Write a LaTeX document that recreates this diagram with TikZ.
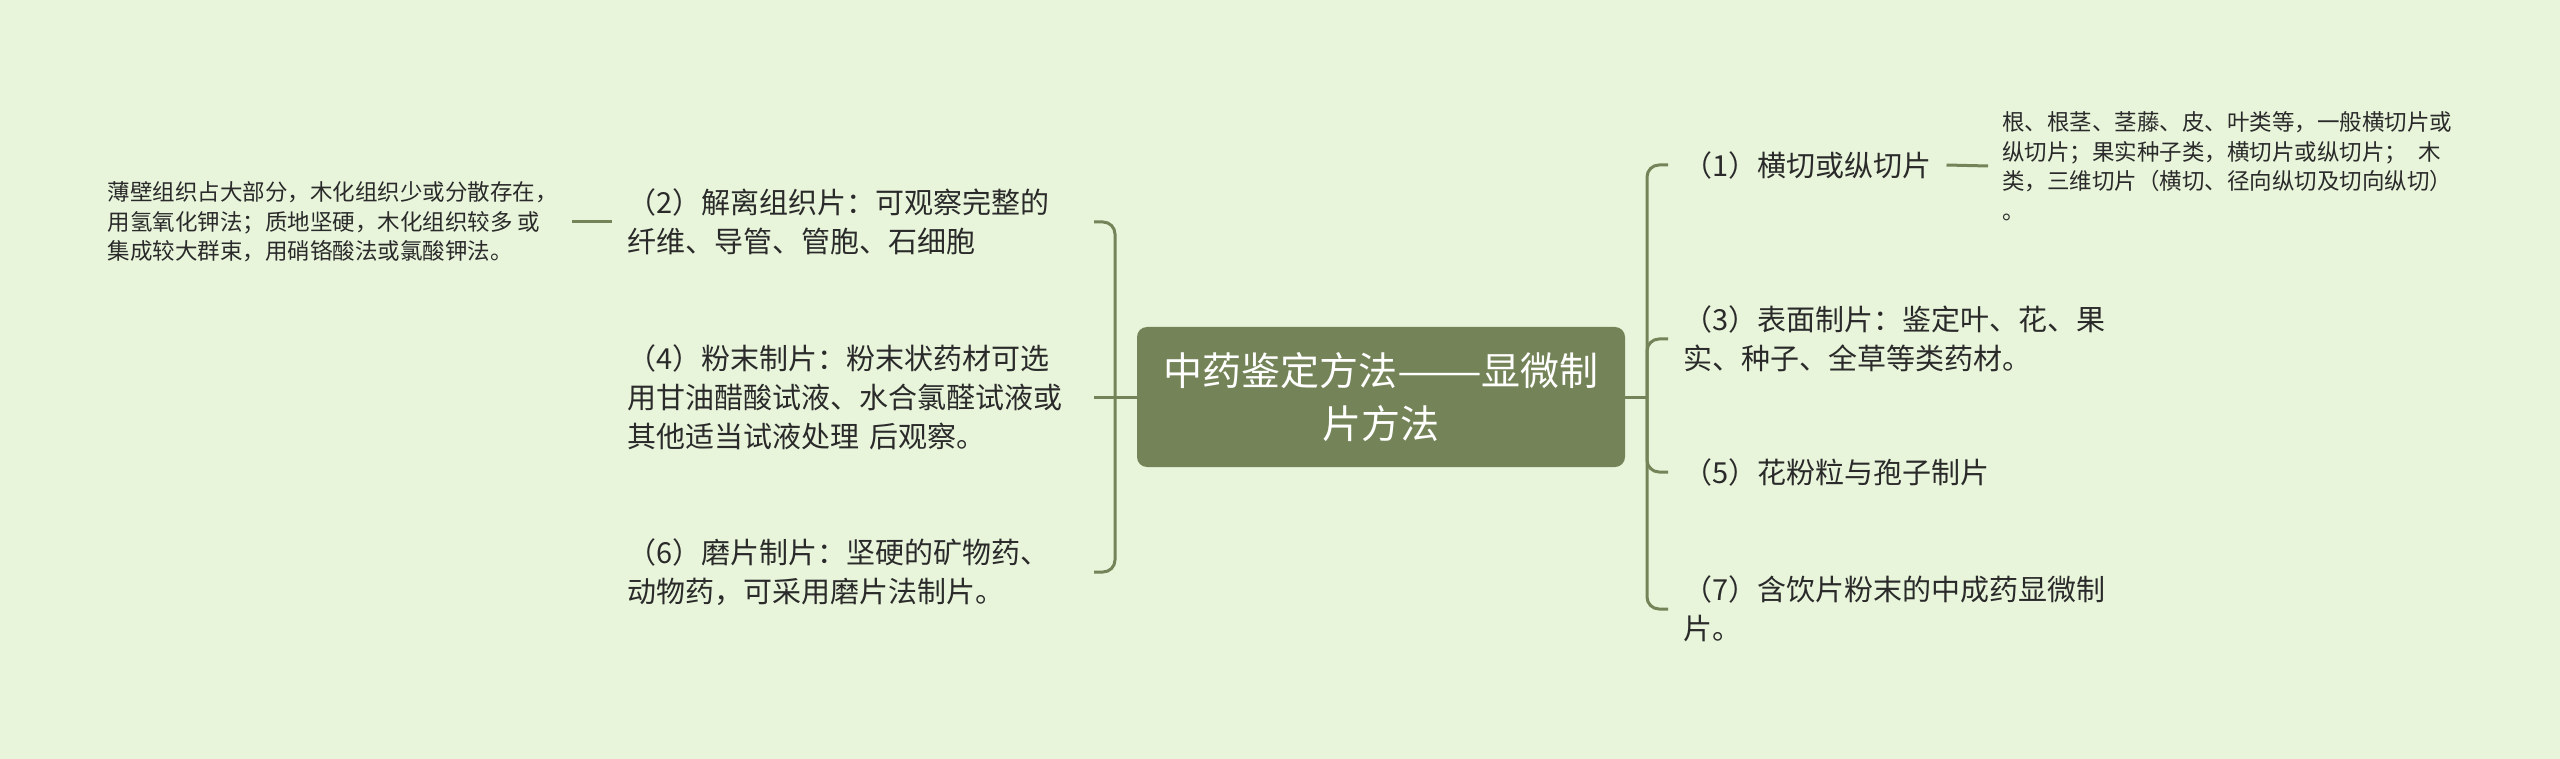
\documentclass[tikz,border=0pt]{standalone}
\usepackage{graphicx}
\usepackage{fontspec}
\newfontfamily\cjk{Noto Sans CJK SC}
\definecolor{bg}{HTML}{E8F5DB}
\definecolor{olive}{HTML}{748458}
\definecolor{ink}{HTML}{2A2A2A}
\tikzset{
  conn/.style={draw=olive, line width=3pt},
  branchline/.style={conn, rounded corners=12pt},
  rootbox/.style={fill=olive, rounded corners=10pt, minimum width=488pt, minimum height=140pt,
    text=white, align=center, font=\cjk\fontsize{39pt}{53pt}\selectfont, inner sep=0pt},
  subL/.style={text=ink, align=left, text width=450pt, inner xsep=16pt, inner ysep=4pt,
    font=\cjk\fontsize{29pt}{39pt}\selectfont, anchor=east},
  subR/.style={text=ink, align=left, inner xsep=15pt, inner ysep=4pt,
    font=\cjk\fontsize{29pt}{39pt}\selectfont, anchor=west},
  detail/.style={text=ink, align=left, inner xsep=14pt, inner ysep=4pt,
    font=\cjk\fontsize{22.5pt}{29.5pt}\selectfont}
}
\begin{document}
\begin{tikzpicture}[x=1pt,y=-1pt]
\fill[bg] (0,0) rectangle (2560,759);
\useasboundingbox (0,0) rectangle (2560,759);

\node[rootbox] (c) at (1381,397) {中药鉴定方法\scalebox{1.3}[1]{——}显微制\\片方法};

% left children
\node[subL] (n2) at (1094,222) {（2）解离组织片：可观察完整的\\纤维、导管、管胞、石细胞};
\node[subL] (n4) at (1094,397) {（4）粉末制片：粉末状药材可选\\用甘油醋酸试液、水合氯醛试液或\\其他适当试液处理 后观察。};
\node[subL] (n6) at (1094,572) {（6）磨片制片：坚硬的矿物药、\\动物药，可采用磨片法制片。};

% right children
\node[subR] (n1) at (1668,165) {（1）横切或纵切片};
\node[subR] (n3) at (1668,339) {（3）表面制片：鉴定叶、花、果\\实、种子、全草等类药材。};
\node[subR] (n5) at (1668,472) {（5）花粉粒与孢子制片};
\node[subR] (n7) at (1668,609) {（7）含饮片粉末的中成药显微制\\片。};

% details
\node[detail, anchor=east] (d2) at (572,222) {薄壁组织占大部分，木化组织少或分散存在，\\用氢氧化钾法；质地坚硬，木化组织较多 或\\集成较大群束，用硝铬酸法或氯酸钾法。};
\node[detail, anchor=west] (d1) at (1988,166) {根、根茎、茎藤、皮、叶类等，一般横切片或\\纵切片；果实种子类，横切片或纵切片；\hspace{0.5em}木\\类，三维切片（横切、径向纵切及切向纵切）\\。};

% junctions
\coordinate (Lj) at (1115,397);
\coordinate (Rj) at (1647,397);

% left connectors
\draw[conn] (c.west) -- (n4.east);
\draw[branchline] (Lj) |- (n2.east);
\draw[branchline] (Lj) |- (n6.east);

% right connectors
\draw[conn] (c.east) -- (Rj);
\draw[branchline] (Rj) |- (n1.west);
\draw[branchline] (Rj) |- (n3.west);
\draw[branchline] (Rj) |- (n5.west);
\draw[branchline] (Rj) |- (n7.west);

% detail connectors
\draw[conn] (n2.west) -- (d2.east);
\draw[conn] (n1.east) -- (d1.west);
\end{tikzpicture}
\end{document}
